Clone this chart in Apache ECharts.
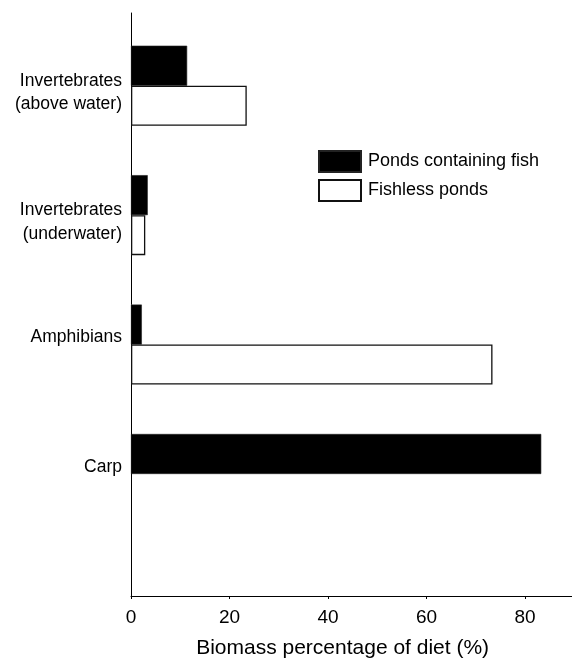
<!DOCTYPE html>
<html>
<head>
<meta charset="utf-8">
<script src="https://cdn.jsdelivr.net/npm/echarts@6/dist/echarts.min.js"></script>
<style>
  html, body { margin: 0; padding: 0; background: #fff; }
  #chart { width: 572px; height: 658px; }
</style>
</head>
<body>
<div id="chart"></div>
<script>
// Diet composition by prey type
const categories = ['Invertebrates\n(above water)', 'Invertebrates\n(underwater)', 'Amphibians', 'Carp'];
const seriesNames = ['Ponds containing fish', 'Fishless ponds'];
const fishPonds = [11.4, 3.4, 2.2, 83.3];
const fishlessPonds = [23.5, 2.9, 73.4, 0];
const xTicks = [0, 20, 40, 60, 80];

const FONT = '"Liberation Sans", Arial, sans-serif';
const X_MAX = 90;

// zero-length bars get no outline
function barData(values) {
  return values.map(function (v) {
    return v === 0 ? { value: v, itemStyle: { borderWidth: 0 } } : v;
  });
}

const chart = echarts.init(document.getElementById('chart'), null, { renderer: 'canvas' });

chart.setOption({
  backgroundColor: '#fff',
  animation: false,
  textStyle: { fontFamily: FONT, color: '#000' },
  legend: {
    orient: 'vertical',
    left: 318,
    top: 150,
    padding: 0,
    itemWidth: 42,
    itemHeight: 21,
    itemGap: 6,
    icon: 'rect',
    data: seriesNames,
    textStyle: { fontFamily: FONT, fontSize: 18, color: '#000', padding: [0, 0, 0, 2] }
  },
  grid: [
    // bar area
    { left: 131, width: 443.25, top: 21, height: 517.7, containLabel: false, outerBoundsMode: 'none' },
    // frame with the visible axes
    { left: 131, width: 443.25, top: 13, height: 583, containLabel: false, outerBoundsMode: 'none' }
  ],
  xAxis: [
    { gridIndex: 0, type: 'value', min: 0, max: X_MAX, show: false },
    {
      gridIndex: 1, type: 'value', min: 0, max: X_MAX, interval: 20,
      axisLine: { show: true, lineStyle: { color: '#000', width: 1 } },
      axisTick: { show: true, length: 3, lineStyle: { color: '#000' } },
      splitLine: { show: false },
      axisLabel: {
        margin: 12, fontSize: 19, color: '#000', fontFamily: FONT,
        showMaxLabel: false,
        formatter: function (v) { return xTicks.indexOf(v) >= 0 ? String(v) : ''; }
      },
      name: 'Biomass percentage of diet (%)',
      nameLocation: 'middle',
      nameGap: 42,
      nameTextStyle: { fontSize: 21, color: '#000', fontFamily: FONT, padding: [0, 20, 0, 0] }
    }
  ],
  yAxis: [
    {
      gridIndex: 0, type: 'category', inverse: true, data: categories,
      axisLine: { show: false }, axisTick: { show: false }, splitLine: { show: false },
      axisLabel: {
        margin: 9, fontSize: 17.5, lineHeight: 23.5, color: '#000', fontFamily: FONT,
        // two-line labels sit a little low, single-line labels a little high
        formatter: function (name) {
          return name.indexOf('\n') >= 0 ? '{gap| }\n' + name : name + '\n{gap| }';
        },
        rich: { gap: { fontSize: 1, lineHeight: 14 } }
      }
    },
    {
      gridIndex: 1, type: 'value', min: 0, max: 1,
      axisLine: { show: true, lineStyle: { color: '#000', width: 1 } },
      axisTick: { show: false }, axisLabel: { show: false }, splitLine: { show: false }
    }
  ],
  series: [
    {
      name: seriesNames[0], type: 'bar', xAxisIndex: 0, yAxisIndex: 0,
      data: barData(fishPonds), barWidth: 40, barGap: '0%',
      itemStyle: { color: '#000', borderColor: '#222', borderWidth: 0.6 }
    },
    {
      name: seriesNames[1], type: 'bar', xAxisIndex: 0, yAxisIndex: 0,
      data: barData(fishlessPonds), barWidth: 40, barGap: '0%',
      itemStyle: { color: '#fff', borderColor: '#111', borderWidth: 1.3 }
    }
  ]
});
</script>
</body>
</html>
